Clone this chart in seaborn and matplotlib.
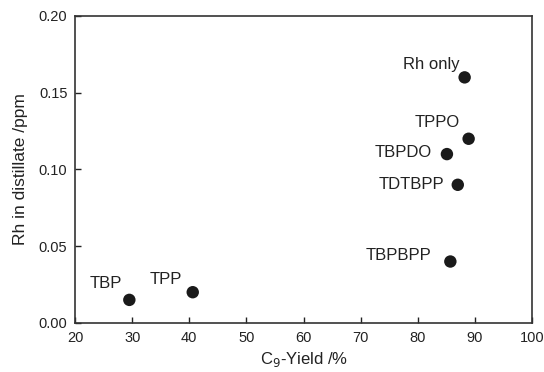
import seaborn as sns
import numpy as np
import pandas as pd
import matplotlib.pyplot as plt

# ligands and the values
ligands = ["TBP", "TPP", "Rh only", "TPPO", "TBPDO", "TDTBPP", "TBPBPP"]
c9_yield = [29.5, 40.6, 88.2, 88.9, 85.1, 87.0, 85.7]
rh_ppm = [0.015, 0.020, 0.160, 0.120, 0.110, 0.090, 0.040]

x_ticks = [20, 30, 40, 50, 60, 70, 80, 90, 100]
y_ticks = [0.00, 0.05, 0.10, 0.15, 0.20]

# label offsets in points (right edge of text, vertical centre)
label_offsets = {
    "TBP": (-5, 11.5),
    "TPP": (-8, 9),
    "Rh only": (-3.8, 9.5),
    "TPPO": (-6.5, 11.5),
    "TBPDO": (-11, 1.5),
    "TDTBPP": (-9.5, 0.5),
    "TBPBPP": (-13.5, 4),
}

df = pd.DataFrame({"ligand": ligands, "yield": c9_yield, "rh": rh_ppm})


def plot_rh_vs_yield():
    sns.set_style("ticks")
    plt.rcParams["font.family"] = ["Liberation Sans", "DejaVu Sans"]
    fig = plt.figure(figsize=(5.44, 3.72), dpi=100)
    ax = fig.add_axes([0.138, 0.132, 0.840, 0.825])

    sns.scatterplot(data=df, x="yield", y="rh", ax=ax, s=80,
                    color="#1a1a1a", edgecolor="none", legend=False, zorder=3)

    for name, x, y in zip(ligands, c9_yield, rh_ppm):
        dx, dy = label_offsets[name]
        ax.annotate(name, (x, y), xytext=(dx, dy), textcoords="offset points",
                    ha="right", va="center", fontsize=12, color="#222222")

    ax.set_xlim(20, 100)
    ax.set_ylim(0, 0.20)
    ax.set_xticks(x_ticks)
    ax.set_yticks(y_ticks)
    ax.set_yticklabels([f"{v:.2f}" for v in y_ticks])
    ax.tick_params(direction="in", length=4.5, width=1, labelsize=10.5,
                   colors="#222222", top=False, right=False, pad=5.5)
    ax.set_xlabel("C$_9$-Yield /%", fontsize=12, color="#222222", labelpad=4)
    ax.set_ylabel("Rh in distillate /ppm", fontsize=12.5, color="#222222",
                  labelpad=8)
    for sp in ax.spines.values():
        sp.set_visible(True)
        sp.set_linewidth(1.2)
        sp.set_color("#333333")

    fig.savefig("out.png", dpi=100)


if __name__ == "__main__":
    plot_rh_vs_yield()
